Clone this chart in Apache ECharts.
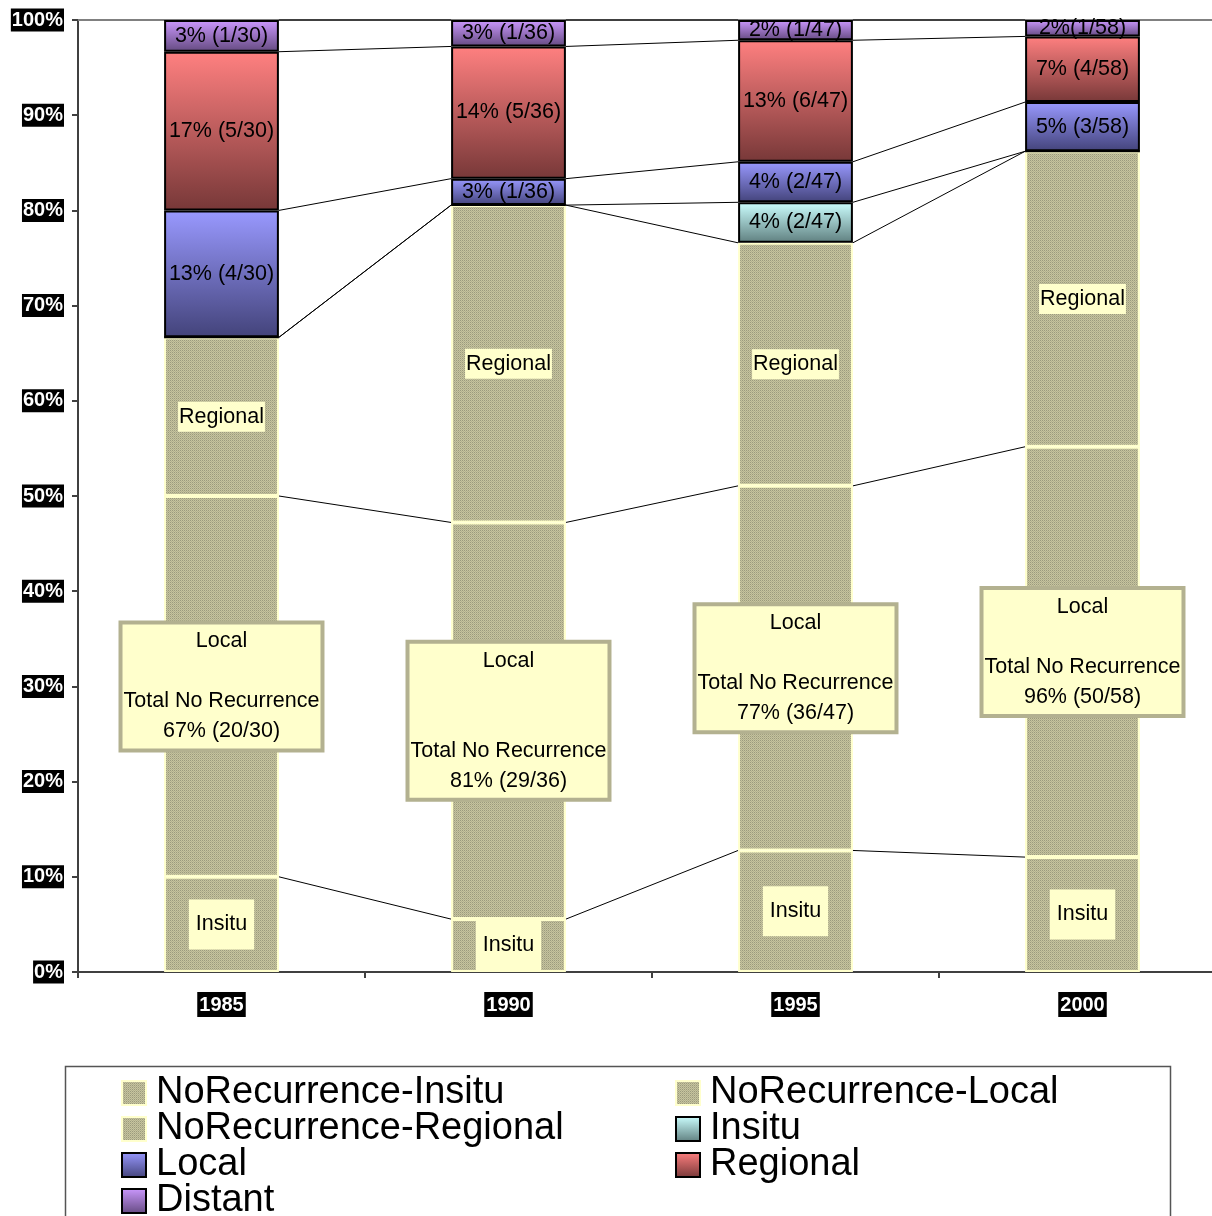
<!DOCTYPE html>
<html>
<head>
<meta charset="utf-8">
<script src="https://cdn.jsdelivr.net/npm/echarts@6/dist/echarts.min.js"></script>
<style>html,body{margin:0;padding:0;background:#fff;overflow:hidden;}#c{width:1226px;height:1216px;}</style>
</head>
<body>
<div id="c"></div>
<script>
// ---- data ----
const categories = ['1985', '1990', '1995', '2000'];
const totals = [30, 36, 47, 58];
const noRecInsitu = [3, 2, 6, 7];
const noRecLocal = [12, 15, 18, 25];
const noRecRegional = [5, 12, 12, 18];
const recInsitu = [0, 0, 2, 0];
const recLocal = [4, 1, 2, 3];
const recRegional = [5, 5, 6, 4];
const recDistant = [1, 1, 1, 1];
const recInsituLabels = ['', '', '4% (2/47)', ''];
const recLocalLabels = ['13% (4/30)', '3% (1/36)', '4% (2/47)', '5% (3/58)'];
const recRegionalLabels = ['17% (5/30)', '14% (5/36)', '13% (6/47)', '7% (4/58)'];
const recDistantLabels = ['3% (1/30)', '3% (1/36)', '2% (1/47)', '2%(1/58)'];
const totalNoRecLabels = ['67% (20/30)', '81% (29/36)', '77% (36/47)', '96% (50/58)'];
const localBlankLines = [1, 2, 1, 1];
const seriesNames = ['NoRecurrence-Insitu', 'NoRecurrence-Local', 'NoRecurrence-Regional', 'Insitu', 'Local', 'Regional', 'Distant'];

// ---- helpers ----
const pct = arr => arr.map((c, i) => c / totals[i] * 100);
const counts = [noRecInsitu, noRecLocal, noRecRegional, recInsitu, recLocal, recRegional, recDistant];
const pcts = counts.map(pct);

const patCanvas = document.createElement('canvas');
patCanvas.width = 2; patCanvas.height = 2;
(function () {
  const g = patCanvas.getContext('2d');
  g.fillStyle = '#c6c49e'; g.fillRect(0, 0, 2, 2);
  g.fillStyle = '#9b9a7e'; g.fillRect(0, 0, 1, 1);
  g.fillStyle = '#b2b08f'; g.fillRect(1, 1, 1, 1);
})();
const patternColor = { image: patCanvas, repeat: 'repeat' };

function grad(top, bottom) {
  return { type: 'linear', x: 0, y: 0, x2: 0, y2: 1, colorStops: [{ offset: 0, color: top }, { offset: 1, color: bottom }] };
}

const noRecStyle = { color: patternColor, borderColor: '#ffffcc', borderWidth: 2 };
const labelFont = { fontSize: 21.5, color: '#000', fontFamily: 'Liberation Sans' };

function recSeries(idx, labels, top, bottom) {
  return {
    name: seriesNames[idx], type: 'bar', stack: 'total', barWidth: '40%',
    data: pcts[idx],
    itemStyle: { color: grad(top, bottom), borderColor: '#000', borderWidth: 2 },
    label: Object.assign({ show: true, position: 'inside', formatter: p => labels[p.dataIndex] }, labelFont),
    z: 3
  };
}

// cumulative tops for series lines
const tops = [];
let run = [0, 0, 0, 0];
pcts.forEach(arr => { run = run.map((v, i) => v + arr[i]); tops.push(run.slice()); });
const lineData = [];
tops.forEach(t => { for (let i = 0; i < categories.length - 1; i++) lineData.push([i, t[i], t[i + 1]]); });

const legendText = { fontSize: 38, lineHeight: 36, color: '#000', padding: [0, 0, 0, 5], fontFamily: 'Liberation Sans' };
function legendItem(name, left, top) {
  return { orient: 'vertical', itemGap: 0, itemWidth: 24, itemHeight: 24, icon: 'rect', padding: 0, textStyle: legendText, left: left, top: top, data: [name] };
}

const chart = echarts.init(document.getElementById('c'));
chart.setOption({
  animation: false,
  textStyle: { fontFamily: 'Liberation Sans' },
  grid: { left: 78, top: 20, right: 0, bottom: 244 },
  xAxis: [{
    type: 'category', data: categories,
    axisLine: { lineStyle: { color: '#404040', width: 2 } },
    axisTick: { show: true, length: 6, lineStyle: { color: '#404040', width: 2 } },
    axisLabel: { color: '#fff', backgroundColor: '#000', fontWeight: 'bold', fontSize: 20, padding: [3, 2, 2, 2], margin: 20, fontFamily: 'Liberation Sans' }
  }, {
    type: 'category', data: categories, position: 'top',
    axisLine: { lineStyle: { color: '#808080', width: 2 } },
    axisTick: { show: false }, axisLabel: { show: false }
  }],
  yAxis: {
    type: 'value', min: 0, max: 100, interval: 10,
    splitLine: { show: false },
    axisLine: { show: true, lineStyle: { color: '#404040', width: 2 } },
    axisTick: { show: true, length: 6, lineStyle: { color: '#404040', width: 2 } },
    axisLabel: { formatter: '{value}%', color: '#fff', backgroundColor: '#000', fontWeight: 'bold', fontSize: 20, padding: [2, 1, 1, 1], margin: 14, fontFamily: 'Liberation Sans' }
  },
  legend: [
    legendItem('NoRecurrence-Insitu', 121, 1074),
    legendItem('NoRecurrence-Regional', 121, 1110),
    legendItem('Local', 121, 1146),
    legendItem('Distant', 121, 1182),
    legendItem('NoRecurrence-Local', 675, 1074),
    legendItem('Insitu', 675, 1110),
    legendItem('Regional', 675, 1146)
  ],
  graphic: [{
    type: 'rect', left: 63, top: 1064, shape: { width: 1105, height: 200 },
    style: { fill: 'none', stroke: '#555', lineWidth: 1.5 }, z: 0
  }],
  series: [
    {
      name: seriesNames[0], type: 'bar', stack: 'total', barWidth: '40%', data: pcts[0], itemStyle: noRecStyle,
      label: Object.assign({ show: true, position: 'inside', formatter: 'Insitu', backgroundColor: '#ffffcc', padding: [14, 7] }, labelFont), z: 2
    },
    {
      name: seriesNames[1], type: 'bar', stack: 'total', barWidth: '40%', data: pcts[1], itemStyle: noRecStyle,
      label: Object.assign({
        show: true, position: 'inside',
        formatter: p => 'Local' + '\n'.repeat(localBlankLines[p.dataIndex] + 1) + 'Total No Recurrence\n' + totalNoRecLabels[p.dataIndex],
        backgroundColor: '#ffffcc', borderColor: '#b3b190', borderWidth: 4, padding: [2, 1], lineHeight: 30, align: 'center'
      }, labelFont), z: 2
    },
    {
      name: seriesNames[2], type: 'bar', stack: 'total', barWidth: '40%', data: pcts[2], itemStyle: noRecStyle,
      label: Object.assign({ show: true, position: 'inside', formatter: 'Regional', backgroundColor: '#ffffcc', padding: [4, 1] }, labelFont), z: 2
    },
    recSeries(3, recInsituLabels, '#ccffff', '#5f7f7f'),
    recSeries(4, recLocalLabels, '#9999ff', '#43437a'),
    recSeries(5, recRegionalLabels, '#ff8080', '#773838'),
    recSeries(6, recDistantLabels, '#cc99ff', '#644a80'),
    {
      type: 'custom', data: lineData, encode: { x: 0, y: 1 }, silent: true, z: 1, clip: false,
      renderItem: function (params, api) {
        const i = api.value(0);
        const p0 = api.coord([i, api.value(1)]);
        const p1 = api.coord([i + 1, api.value(2)]);
        const half = api.size([1, 0])[0] * 0.2;
        return { type: 'line', shape: { x1: p0[0] + half, y1: p0[1], x2: p1[0] - half, y2: p1[1] }, style: { stroke: '#000', lineWidth: 1 } };
      }
    }
  ]
});
</script>
</body>
</html>
